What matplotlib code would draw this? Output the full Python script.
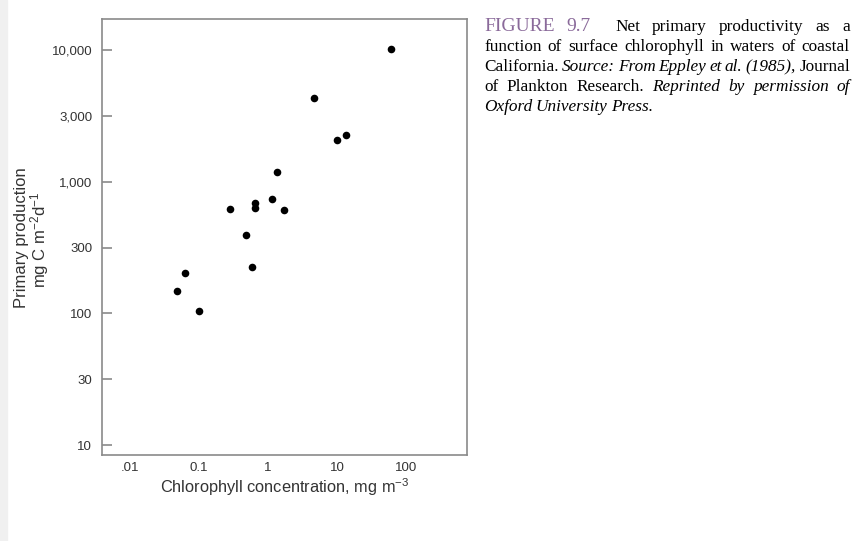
import numpy as np
import matplotlib.pyplot as plt
from matplotlib.patches import Rectangle

plt.rcParams['mathtext.fontset'] = 'custom'
plt.rcParams['mathtext.rm'] = 'Liberation Sans'
plt.rcParams['mathtext.it'] = 'Liberation Sans:italic'
plt.rcParams['mathtext.default'] = 'regular'

# data (log-log axes)
chlorophyll = [61, 4.7, 10.1, 13.4, 1.35, 1.14, 0.655, 0.655, 0.284, 1.69,
               0.47, 0.586, 0.063, 0.048, 0.10]
production = [10200, 4300, 2090, 2260, 1190, 738, 692, 626, 615, 611,
              397, 226, 202, 148, 105]

x_ticks = [0.01, 0.1, 1, 10, 100]
x_ticklabels = ['.01', '0.1', '1', '10', '100']
# the original axis puts "3" labels at half-decade spacing
y_ticks = [10 ** (k / 2) for k in range(2, 9)]
y_ticklabels = ['10', '30', '100', '300', '1,000', '3,000', '10,000']

TEXT = '#333333'
SPINE = '#8a8a8a'
PURPLE = '#8a6a9a'

W, H = 860, 541
fig = plt.figure(figsize=(W / 100, H / 100), dpi=100)
fig.patches.append(Rectangle((0, 0), 7 / W, 1, transform=fig.transFigure,
                             color='#f0f0f0', zorder=0))

ax = fig.add_axes([102 / W, 1 - 455 / H, 365 / W, 436 / H])
ax.scatter(chlorophyll, production, s=30, color='black', zorder=3, linewidths=0)
ax.set_xscale('log')
ax.set_yscale('log')
ax.set_xlim(0.0039, 765)
ax.set_ylim(8.4, 17200)

ax.set_xticks(x_ticks)
ax.set_xticklabels(x_ticklabels)
ax.set_yticks(y_ticks)
ax.set_yticklabels(y_ticklabels)
ax.minorticks_off()
ax.tick_params(axis='x', length=0, pad=5, labelsize=9.5, labelcolor=TEXT)
ax.tick_params(axis='y', direction='in', length=7, width=1.2, color=SPINE,
               pad=7, labelsize=9.5, labelcolor=TEXT)
for lab in ax.get_xticklabels() + ax.get_yticklabels():
    lab.set_family('Liberation Sans')

for sp in ax.spines.values():
    sp.set_color(SPINE)
    sp.set_linewidth(1.2)

ax.set_xlabel('Chlorophyll concentration, mg m$^{-3}$', fontsize=11.8,
              color=TEXT, family='Liberation Sans', labelpad=2)
fig.text(22 / W, 1 - 238 / H, 'Primary production', rotation=90,
         fontsize=12, color=TEXT, family='Liberation Sans',
         ha='center', va='center')
fig.text(40 / W, 1 - 240 / H, 'mg C m$^{-2}$d$^{-1}$', rotation=90,
         fontsize=12, color=TEXT, family='Liberation Sans',
         ha='center', va='center')

# caption, justified by hand
caption = [
    [('FIGURE', PURPLE, 'normal'), ('9.7', PURPLE, 'normal'), ('', None, None),
     ('Net', 'k', 'normal'), ('primary', 'k', 'normal'),
     ('productivity', 'k', 'normal'), ('as', 'k', 'normal'), ('a', 'k', 'normal')],
    [(w, 'k', 'normal') for w in
     'function of surface chlorophyll in waters of coastal'.split()],
    [('California.', 'k', 'normal')] +
    [(w, 'k', 'italic') for w in 'Source: From Eppley et al. (1985),'.split()] +
    [('Journal', 'k', 'normal')],
    [(w, 'k', 'normal') for w in 'of Plankton Research.'.split()] +
    [(w, 'k', 'italic') for w in 'Reprinted by permission of'.split()],
    [(w, 'k', 'italic') for w in 'Oxford University Press.'.split()],
]
x0, x1 = 484, 850
baselines = [31, 51, 71, 91, 111]
renderer = fig.canvas.get_renderer()
for i, (line, yb) in enumerate(zip(caption, baselines)):
    texts = []
    for word, col, style in line:
        if col is None:
            texts.append(None)
            continue
        size = 14 if col == PURPLE else 12.4
        t = fig.text(0, 1 - yb / H, word, color=col, style=style,
                     fontsize=size, family='Liberation Serif', va='baseline')
        texts.append(t)
    widths = [t.get_window_extent(renderer).width if t else 0 for t in texts]
    if i == len(caption) - 1:
        gap = 3.5
    else:
        gap = (x1 - x0 - sum(widths)) / (len(texts) - 1)
    x = x0
    for t, w in zip(texts, widths):
        if t is not None:
            t.set_x(x / W)
        x += w + gap

fig.savefig('out.png', dpi=100)
